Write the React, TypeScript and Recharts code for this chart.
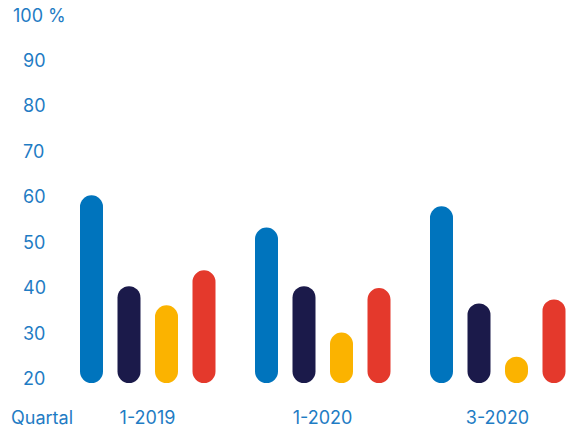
import { BarChart, Bar, XAxis, YAxis, Label } from "recharts"

const QUARTERS = ["1-2019", "1-2020", "3-2020"]
const SERIES_A = [60.3, 53.2, 57.9]
const SERIES_B = [40.3, 40.3, 36.5]
const SERIES_C = [36.1, 30.1, 24.8]
const SERIES_D = [43.8, 39.9, 37.4]
const Y_TICKS = [20, 30, 40, 50, 60, 70, 80, 90, 100]

const SERIES = [
  { key: "a", values: SERIES_A, color: "#0074bd" },
  { key: "b", values: SERIES_B, color: "#1b1a4a" },
  { key: "c", values: SERIES_C, color: "#fbb300" },
  { key: "d", values: SERIES_D, color: "#e4392c" },
]

const TEXT_COLOR = "#1f7cc4"
const FONT = "Inter, 'Noto Sans', sans-serif"

const chartData = QUARTERS.map((q, i) => {
  const row: Record<string, string | number> = { quarter: q }
  SERIES.forEach((s) => {
    row[s.key] = s.values[i]
  })
  return row
})

function YTick({ y, payload }: any) {
  const top = payload.value === 100
  return (
    <text
      x={top ? 13 : 23}
      y={y}
      dominantBaseline="central"
      fill={TEXT_COLOR}
      fontSize={18}
      fontFamily={FONT}
    >
      {top ? "100 %" : payload.value}
    </text>
  )
}

function XTick({ x, y, payload }: any) {
  return (
    <text
      x={x}
      y={y + 34}
      textAnchor="middle"
      dominantBaseline="central"
      fill={TEXT_COLOR}
      fontSize={18}
      fontFamily={FONT}
    >
      {payload.value}
    </text>
  )
}

export default function App() {
  return (
    <div
      style={{
        position: "absolute",
        left: 0,
        top: 0,
        width: 575,
        height: 428,
        overflow: "hidden",
        background: "#fff",
      }}
    >
      <BarChart
        width={600}
        height={428}
        data={chartData}
        margin={{ top: 15, right: 15, bottom: 0, left: 0 }}
        barSize={23}
        barGap={14.5}
      >
        <XAxis
          dataKey="quarter"
          axisLine={false}
          tickLine={false}
          tickSize={0}
          tickMargin={0}
          height={45}
          tick={<XTick />}
          interval={0}
        >
          <Label
            content={({ viewBox }: any) => (
              <text
                x={11}
                y={viewBox.y + 34}
                dominantBaseline="central"
                fill={TEXT_COLOR}
                fontSize={18}
                fontFamily={FONT}
              >
                Quartal
              </text>
            )}
          />
        </XAxis>
        <YAxis
          type="number"
          domain={[19, 100]}
          ticks={Y_TICKS}
          allowDataOverflow
          axisLine={false}
          tickLine={false}
          width={60}
          tick={<YTick />}
        />
        {SERIES.map((s) => (
          <Bar
            key={s.key}
            dataKey={s.key}
            fill={s.color}
            radius={[11.5, 11.5, 11.5, 11.5]}
            isAnimationActive={false}
          />
        ))}
      </BarChart>
    </div>
  )
}
